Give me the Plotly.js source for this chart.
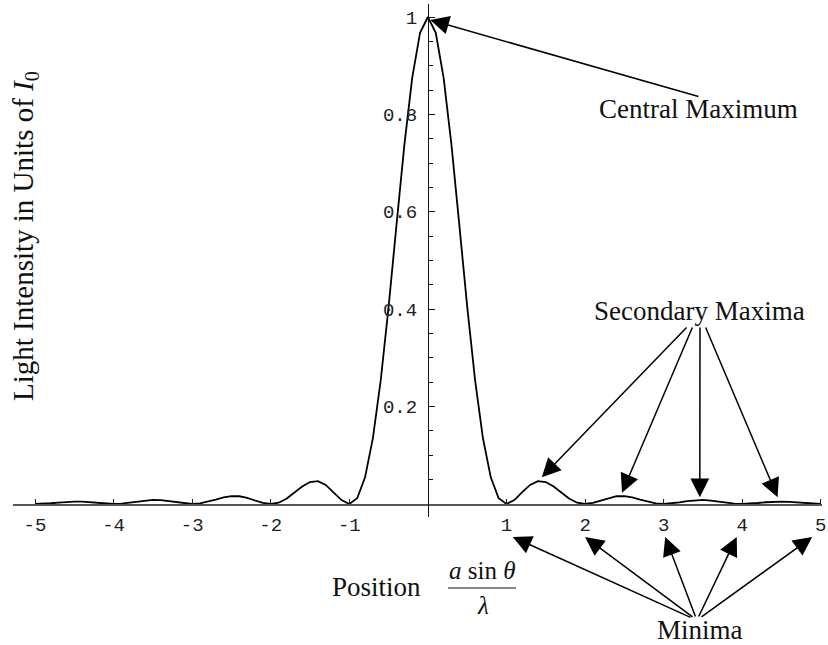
<!DOCTYPE html>
<html>
<head>
<meta charset="utf-8">
<script src="https://cdn.plot.ly/plotly-3.0.1.min.js"></script>
<style>
  html, body { margin: 0; padding: 0; background: #fff; }
  #plot { width: 828px; height: 645px; }
</style>
</head>
<body>
<div id="plot"></div>
<script>
// Single-slit diffraction: intensity (units of I0) vs. position a·sinθ/λ
const position = [
  -5.0, -4.9, -4.8, -4.7, -4.6, -4.5, -4.4, -4.3, -4.2, -4.1,
  -4.0, -3.9, -3.8, -3.7, -3.6, -3.5, -3.4, -3.3, -3.2, -3.1,
  -3.0, -2.9, -2.8, -2.7, -2.6, -2.5, -2.4, -2.3, -2.2, -2.1,
  -2.0, -1.9, -1.8, -1.7, -1.6, -1.5, -1.4, -1.3, -1.2, -1.1,
  -1.0, -0.9, -0.8, -0.7, -0.6, -0.5, -0.4, -0.3, -0.2, -0.1,
  0.0,
  0.1, 0.2, 0.3, 0.4, 0.5, 0.6, 0.7, 0.8, 0.9, 1.0,
  1.1, 1.2, 1.3, 1.4, 1.5, 1.6, 1.7, 1.8, 1.9, 2.0,
  2.1, 2.2, 2.3, 2.4, 2.5, 2.6, 2.7, 2.8, 2.9, 3.0,
  3.1, 3.2, 3.3, 3.4, 3.5, 3.6, 3.7, 3.8, 3.9, 4.0,
  4.1, 4.2, 4.3, 4.4, 4.5, 4.6, 4.7, 4.8, 4.9, 5.0
];
const intensity = [
  0, 0.0004, 0.0015, 0.0030, 0.0043, 0.0050, 0.0047, 0.0036, 0.0020, 0.0006,
  0, 0.0006, 0.0024, 0.0048, 0.0071, 0.0083, 0.0079, 0.0061, 0.0034, 0.0010,
  0, 0.0011, 0.0045, 0.0091, 0.0136, 0.0162, 0.0159, 0.0125, 0.0072, 0.0022,
  0, 0.0027, 0.0108, 0.0229, 0.0358, 0.0450, 0.0468, 0.0392, 0.0243, 0.0080,
  0, 0.0119, 0.0547, 0.1353, 0.2546, 0.4053, 0.5728, 0.7368, 0.8751, 0.9675,
  1,
  0.9675, 0.8751, 0.7368, 0.5728, 0.4053, 0.2546, 0.1353, 0.0547, 0.0119, 0,
  0.0080, 0.0243, 0.0392, 0.0468, 0.0450, 0.0358, 0.0229, 0.0108, 0.0027, 0,
  0.0022, 0.0072, 0.0125, 0.0159, 0.0162, 0.0136, 0.0091, 0.0045, 0.0011, 0,
  0.0010, 0.0034, 0.0061, 0.0079, 0.0083, 0.0071, 0.0048, 0.0024, 0.0006, 0,
  0.0006, 0.0020, 0.0036, 0.0047, 0.0050, 0.0043, 0.0030, 0.0015, 0.0004, 0
];

const xTickVals = [-5, -4, -3, -2, -1, 1, 2, 3, 4, 5];
const xTickText = ['-5', '-4', '-3', '-2', '-1', '1', '2', '3', '4', '5'];
const yTickVals = [0.2, 0.4, 0.6, 0.8, 1];
const yTickText = ['0.2', '0.4', '0.6', '0.8', '1'];
const yMinorVals = [0.05, 0.1, 0.15, 0.25, 0.3, 0.35, 0.45, 0.5, 0.55, 0.65, 0.7, 0.75, 0.85, 0.9, 0.95];

// Annotated features (positions along the axis)
const centralMax = 0.03;
const secondaryMaxima = [1.45, 2.47, 3.46, 4.45];
const minima = [1.08, 2.0, 3.02, 3.93, 4.89];

// Frame geometry
const W = 828, H = 645;
const M = { l: 13, r: 6, t: 4, b: 128 };
const xRange = [-5.28, 5.015];
const yRange = [-0.0267, 1.0267];
const plotW = W - M.l - M.r, plotH = H - M.t - M.b;

// coordinate helpers for placing the callouts
const pxX = v => (v - M.l) / plotW;                 // pixel -> paper x
const pxY = v => (H - M.b - v) / plotH;             // pixel -> paper y
const dataPxX = x => M.l + (x - xRange[0]) / (xRange[1] - xRange[0]) * plotW;
const dataPxY = y => H - M.b - (y - yRange[0]) / (yRange[1] - yRange[0]) * plotH;

const serif = 'Liberation Serif, Times New Roman, serif';
const mono = 'Liberation Mono, Courier New, monospace';

const trace = {
  x: position, y: intensity, type: 'scatter', mode: 'lines',
  line: { color: '#000', width: 1.8 }, hoverinfo: 'skip'
};

// arrow with its head at pixel (tipPx, tipPy) and its tail at (tailPx, tailPy)
function arrow(tipPx, tipPy, tailPx, tailPy) {
  return {
    x: pxX(tipPx), y: pxY(tipPy), xref: 'paper', yref: 'paper',
    ax: tailPx - tipPx, ay: tailPy - tipPy, axref: 'pixel', ayref: 'pixel',
    text: '', showarrow: true, arrowhead: 2, arrowsize: 2.5, arrowwidth: 1.5,
    arrowcolor: '#000', standoff: 0, startstandoff: 0
  };
}

function label(text, cx, cy, size, angle) {
  return {
    text: text, xref: 'paper', yref: 'paper', x: pxX(cx), y: pxY(cy),
    xanchor: 'center', yanchor: 'middle', showarrow: false,
    textangle: angle || 0, font: { family: serif, size: size, color: '#111' }
  };
}

const annotations = [
  label('Central Maximum', 698, 109, 27),
  label('Secondary Maxima', 699, 311, 27),
  label('Minima', 700, 630, 27),
  label('Position', 376, 587, 27),
  label('<i>a</i> sin <i>θ</i>', 482, 571, 25),
  label('<i>λ</i>', 483, 605, 25),
  label('Light Intensity in Units of <i>I</i><sub>0</sub>', 25, 236, 29, -90),
  arrow(dataPxX(centralMax), dataPxY(0.994), 700, 97)
];
const secTails = [688, 693, 700, 705];
const secTipY = [0.055, 0.023, 0.014, 0.014];
secondaryMaxima.forEach((m, i) => {
  annotations.push(arrow(dataPxX(m), dataPxY(secTipY[i]), secTails[i], 326));
});
const minTails = [692, 694, 696, 698, 700];
minima.forEach((m, i) => {
  annotations.push(arrow(dataPxX(m), 537, minTails[i], 618));
});

const layout = {
  width: W, height: H,
  margin: M,
  paper_bgcolor: '#fff', plot_bgcolor: '#fff',
  showlegend: false,
  xaxis: {
    range: xRange, anchor: 'free',
    position: (0 - yRange[0]) / (yRange[1] - yRange[0]),
    showgrid: false, zeroline: false,
    showline: true, linecolor: '#555', linewidth: 1.6,
    tickvals: xTickVals, ticktext: xTickText,
    ticks: 'inside', ticklen: 5, tickcolor: '#222', tickwidth: 1,
    tickfont: { family: mono, size: 19, color: '#222' },
    ticklabelstandoff: 3
  },
  yaxis: {
    range: yRange, anchor: 'free',
    position: (0 - xRange[0]) / (xRange[1] - xRange[0]),
    showgrid: false, zeroline: false,
    showline: true, linecolor: '#111', linewidth: 1.2,
    tickvals: yTickVals, ticktext: yTickText,
    ticks: 'inside', ticklen: 6, tickcolor: '#111', tickwidth: 1,
    minor: { tickvals: yMinorVals, ticks: 'inside', ticklen: 4, tickcolor: '#111', tickwidth: 1 },
    tickfont: { family: mono, size: 19, color: '#222' },
    ticklabelstandoff: 7
  },
  shapes: [
    { type: 'line', xref: 'paper', yref: 'paper',
      x0: pxX(448), x1: pxX(516), y0: pxY(588), y1: pxY(588),
      line: { color: '#111', width: 1.2 } }
  ],
  annotations: annotations
};

Plotly.newPlot('plot', [trace], layout, { displayModeBar: false, staticPlot: true });
</script>
</body>
</html>
